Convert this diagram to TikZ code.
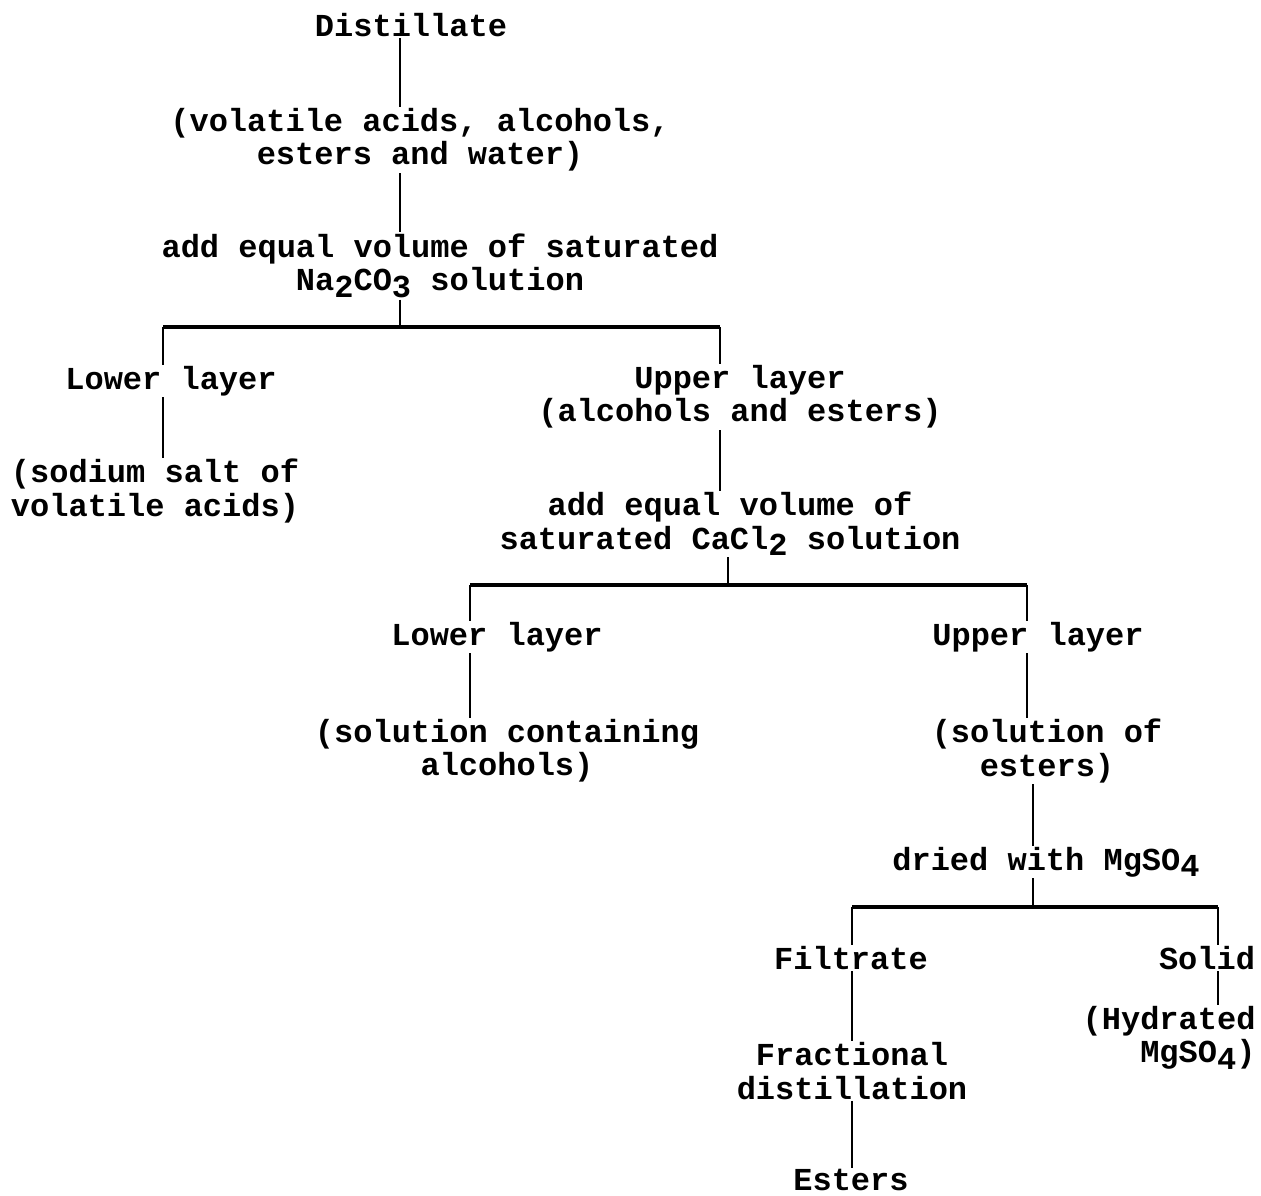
\documentclass[tikz,border=0pt]{standalone}
\usepackage{fontspec}
\setmainfont{Liberation Mono}
\newcommand{\lowr}[1]{\raisebox{-0.4ex}{#1}}

\tikzset{every picture/.style={line width=0.75pt}}
\tikzset{
  typed/.style={inner sep=0.75pt, align=center, font=\fontsize{24}{25}\selectfont\bfseries},
  stem/.style={line width=1.3pt},
  bar/.style={line width=2.8pt}
}

\begin{document}
\begin{tikzpicture}[x=0.75pt,y=0.75pt,yscale=-1,xscale=1]
        \useasboundingbox (0,0) rectangle (1261,1196);

        % Text Node
        \draw (411,25) node [typed] (dist) {Distillate};
        % Text Node
        \draw (420,140) node [typed] (vol) {(volatile acids, alcohols,\\esters and water)};
        % Text Node
        \draw (440,266) node [typed] (na) {add equal volume of saturated\\Na\lowr{2}CO\lowr{3} solution};
        % Text Node
        \draw (171,381) node [typed] (lowA) {Lower layer};
        % Text Node
        \draw (155,491) node [typed] (sodium) {(sodium salt of\\volatile acids)};
        % Text Node
        \draw (740,397) node [typed] (upA) {Upper layer\\(alcohols and esters)};
        % Text Node
        \draw (730,524) node [typed] (cacl) {add equal volume of\\saturated CaCl\lowr{2} solution};
        % Text Node
        \draw (497,637) node [typed] (lowB) {Lower layer};
        % Text Node
        \draw (1038,637) node [typed] (upB) {Upper layer};
        % Text Node
        \draw (507,751) node [typed] (solA) {(solution containing\\alcohols)};
        % Text Node
        \draw (1047,751) node [typed] (solB) {(solution of\\esters)};
        % Text Node
        \draw (1046,862) node [typed] (dried) {dried with MgSO\lowr{4}};
        % Text Node
        \draw (851,958) node [typed] (filt) {Filtrate};
        % Text Node
        \draw (1207,958) node [typed] (solid) {Solid};
        % Text Node
        \draw (1257,1038) node [typed, anchor=east, align=right] (hyd) {(Hydrated\\MgSO\lowr{4})};
        % Text Node
        \draw (852,1071) node [typed] (frac) {Fractional\\distillation};
        % Text Node
        \draw (851,1180) node [typed] (esters) {Esters};

        %Branch points
        \coordinate (bar1L) at (163,327);
        \coordinate (bar1J) at (400,327);
        \coordinate (bar1R) at (720,327);
        \coordinate (bar2L) at (470,585);
        \coordinate (bar2J) at (728,585);
        \coordinate (bar2R) at (1027,585);
        \coordinate (bar3L) at (852,907);
        \coordinate (bar3J) at (1033,907);
        \coordinate (bar3R) at (1218,907);

        %Straight Lines
        \draw [stem] (dist.south -| bar1J) -- (vol.north -| bar1J) ;
        \draw [stem] (vol.south -| bar1J) -- (na.north -| bar1J) ;
        \draw [stem] (na.south -| bar1J) -- (bar1J) ;
        \draw [bar] (bar1L) -- (bar1R) ;
        \draw [stem] (bar1L) -- (lowA.north -| bar1L) ;
        \draw [stem] (lowA.south -| bar1L) -- (sodium.north -| bar1L) ;
        \draw [stem] (bar1R) -- (upA.north -| bar1R) ;
        \draw [stem] (upA.south -| bar1R) -- (cacl.north -| bar1R) ;

        %Straight Lines
        \draw [stem] (cacl.south -| bar2J) -- (bar2J) ;
        \draw [bar] (bar2L) -- (bar2R) ;
        \draw [stem] (bar2L) -- (lowB.north -| bar2L) ;
        \draw [stem] (lowB.south -| bar2L) -- (solA.north -| bar2L) ;
        \draw [stem] (bar2R) -- (upB.north -| bar2R) ;
        \draw [stem] (upB.south -| bar2R) -- (solB.north -| bar2R) ;
        \draw [stem] (solB.south -| bar3J) -- (dried.north -| bar3J) ;

        %Straight Lines
        \draw [stem] (dried.south -| bar3J) -- (bar3J) ;
        \draw [bar] (bar3L) -- (bar3R) ;
        \draw [stem] (bar3L) -- (filt.north -| bar3L) ;
        \draw [stem] (filt.south -| bar3L) -- (frac.north -| bar3L) ;
        \draw [stem] (frac.south -| bar3L) -- (esters.north -| bar3L) ;
        \draw [stem] (bar3R) -- (solid.north -| bar3R) ;
        \draw [stem] (solid.south -| bar3R) -- (hyd.north -| bar3R) ;

    \end{tikzpicture}
\end{document}
